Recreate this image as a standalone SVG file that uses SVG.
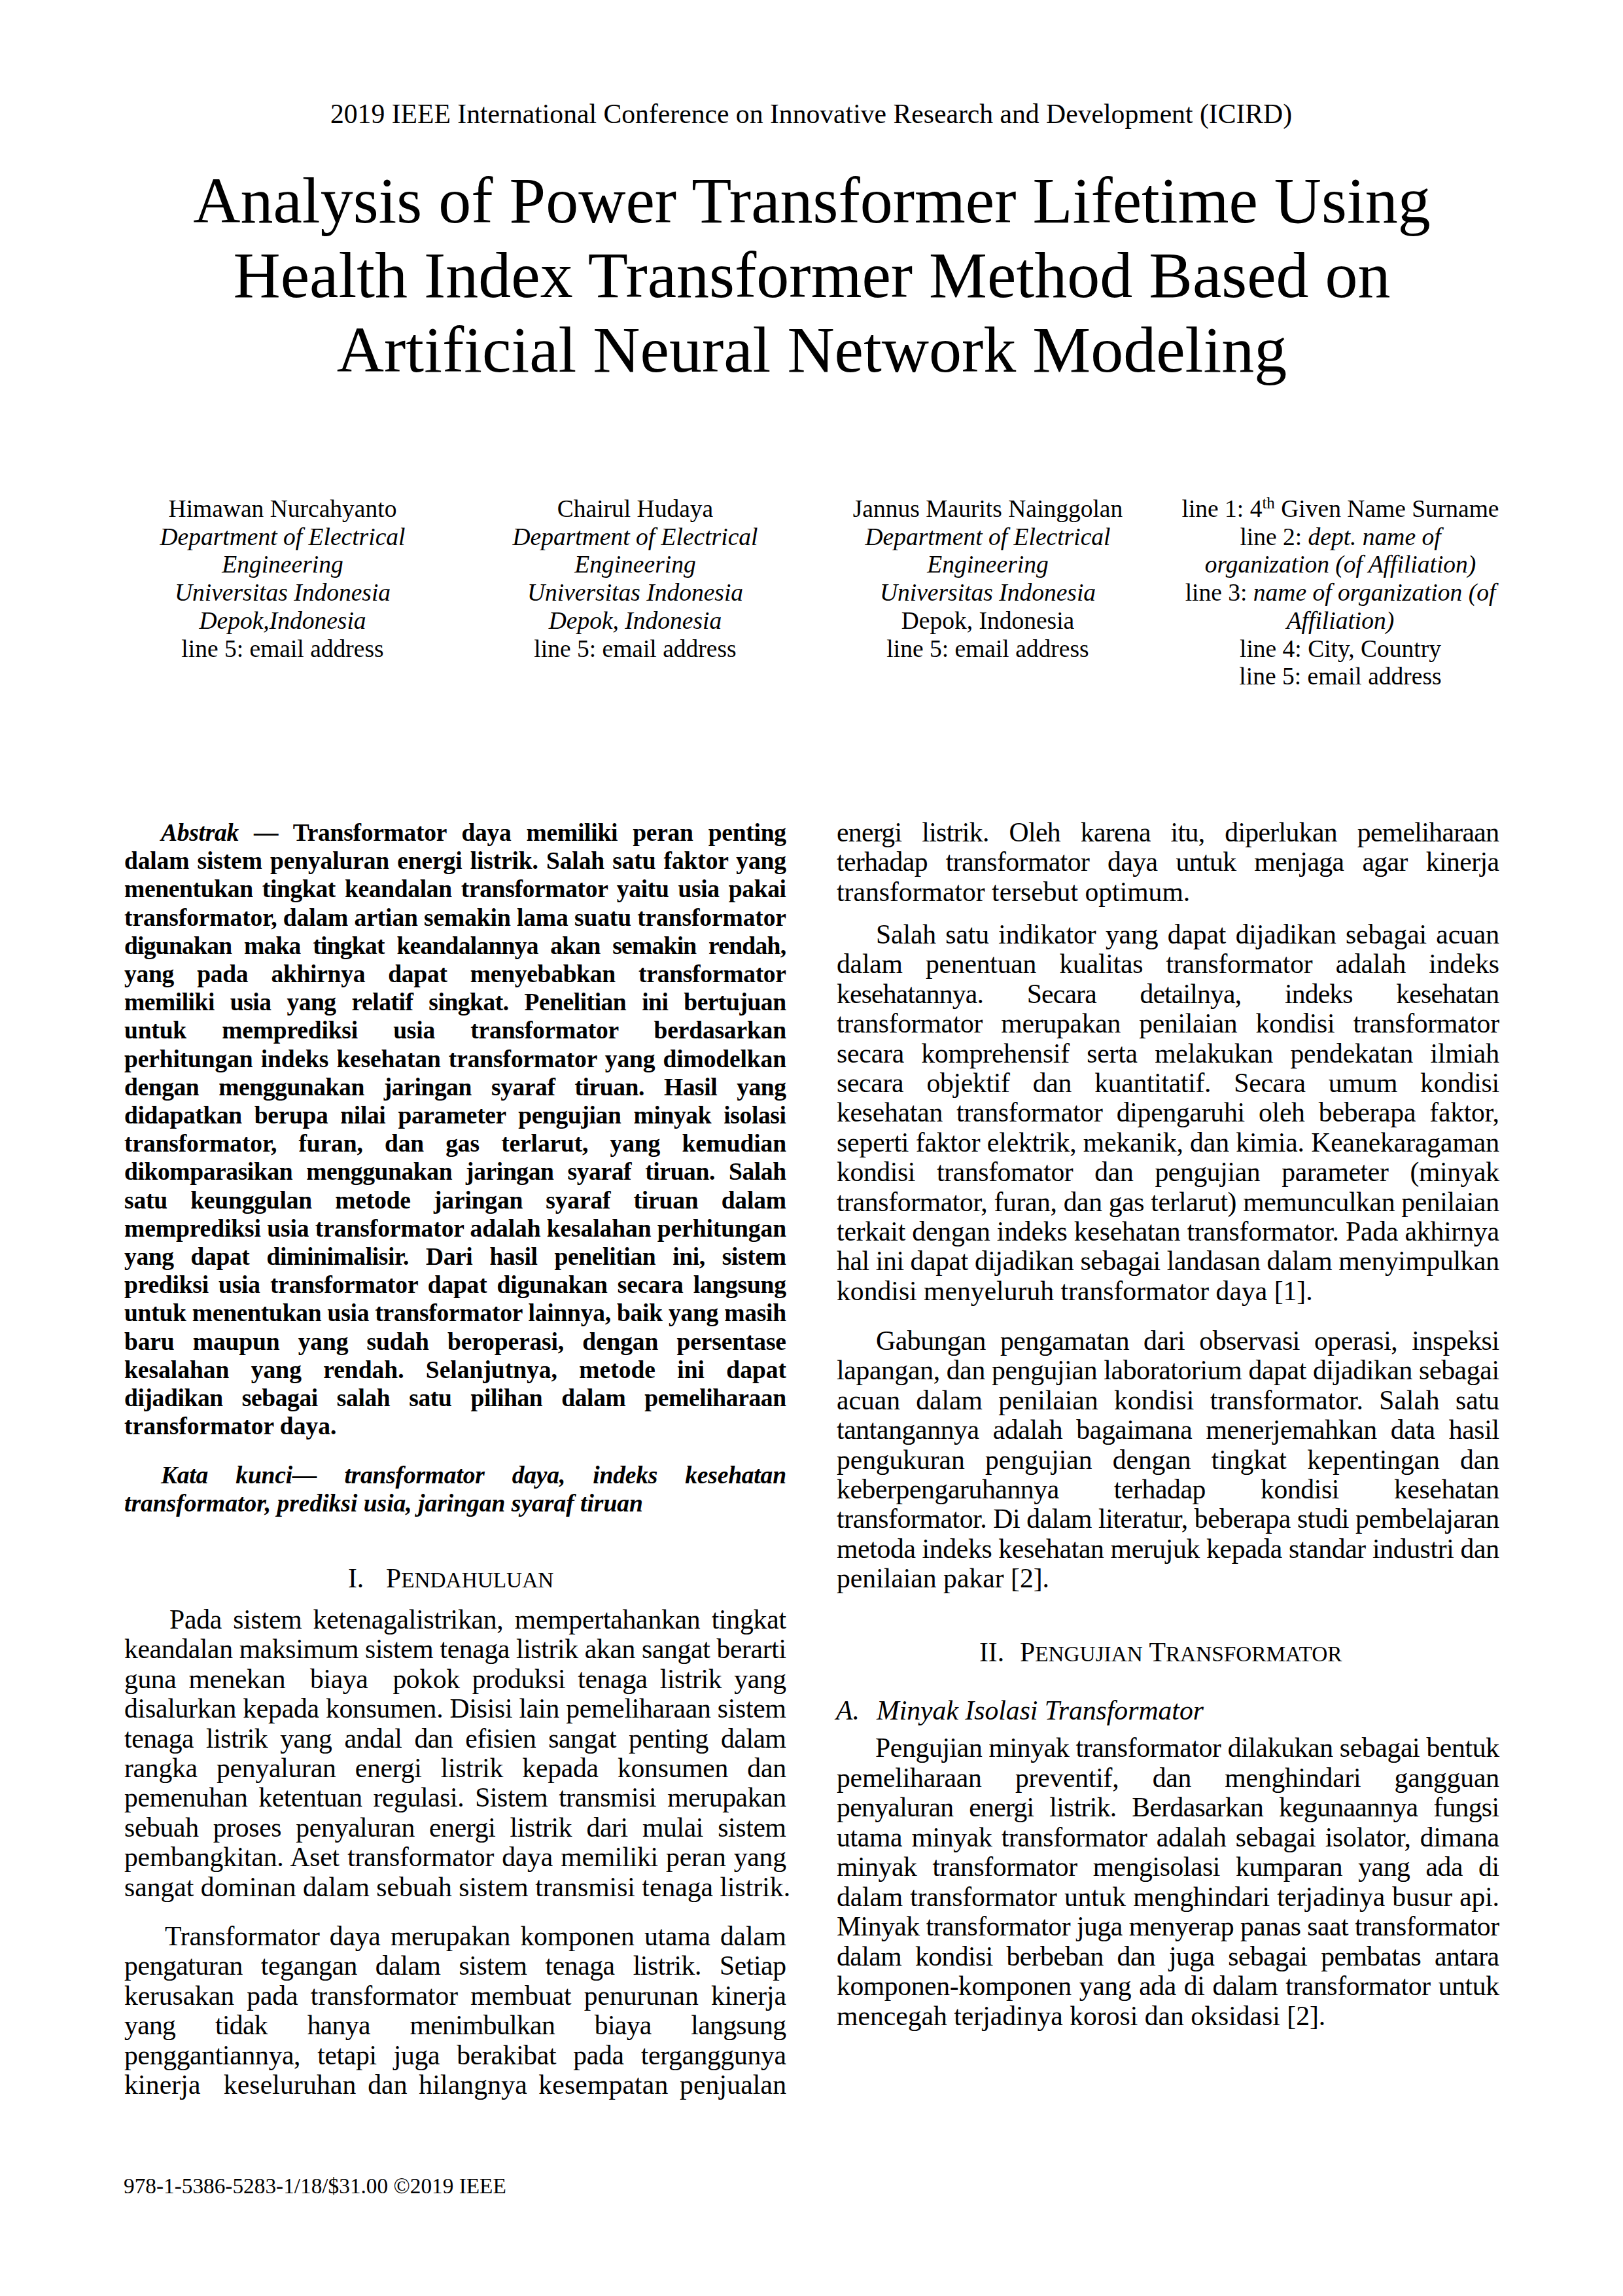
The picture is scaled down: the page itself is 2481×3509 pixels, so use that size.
<svg xmlns="http://www.w3.org/2000/svg" width="2481" height="3509" viewBox="0 0 2481 3509">
<style>
text{font-family:"Liberation Serif","Times New Roman",serif;fill:#000}
.hd{font-size:41.67px;text-anchor:middle}
.ti{font-size:100px;text-anchor:middle}
.au{font-size:37.5px;text-anchor:middle}
.ab{font-size:37.5px;font-weight:bold}
.b{font-size:41.67px}
.i{font-style:italic}
.sc{font-size:33.3px}
.ft{font-size:33.3px}
</style>
<rect x="0" y="0" width="2481" height="3509" fill="#fff"/>
<g id="header">
<text class="hd" x="1240" y="188">2019 IEEE International Conference on Innovative Research and Development (ICIRD)</text>
</g>
<g id="title">
<text class="ti" x="1241" y="340">Analysis of Power Transformer Lifetime Using</text>
<text class="ti" x="1241" y="454">Health Index Transformer Method Based on</text>
<text class="ti" x="1241" y="568">Artificial Neural Network Modeling</text>
</g>
<g id="author1">
<text class="au" x="432" y="790">Himawan Nurcahyanto</text>
<text class="au i" x="432" y="832.7">Department of Electrical</text>
<text class="au i" x="432" y="875.4">Engineering</text>
<text class="au i" x="432" y="918.1">Universitas Indonesia</text>
<text class="au i" x="432" y="960.8">Depok,Indonesia</text>
<text class="au" x="432" y="1003.5">line 5: email address</text>
</g>
<g id="author2">
<text class="au" x="971" y="790">Chairul Hudaya</text>
<text class="au i" x="971" y="832.7">Department of Electrical</text>
<text class="au i" x="971" y="875.4">Engineering</text>
<text class="au i" x="971" y="918.1">Universitas Indonesia</text>
<text class="au i" x="971" y="960.8">Depok, Indonesia</text>
<text class="au" x="971" y="1003.5">line 5: email address</text>
</g>
<g id="author3">
<text class="au" x="1510" y="790">Jannus Maurits Nainggolan</text>
<text class="au i" x="1510" y="832.7">Department of Electrical</text>
<text class="au i" x="1510" y="875.4">Engineering</text>
<text class="au i" x="1510" y="918.1">Universitas Indonesia</text>
<text class="au" x="1510" y="960.8">Depok, Indonesia</text>
<text class="au" x="1510" y="1003.5">line 5: email address</text>
</g>
<g id="author4">
<text class="au" x="2049" y="790">line 1: 4<tspan font-size="25" dy="-13">th</tspan><tspan dy="13"> Given Name Surname</tspan></text>
<text class="au" x="2049" y="832.7">line 2: <tspan class="i">dept. name of</tspan></text>
<text class="au i" x="2049" y="875.4">organization (of Affiliation)</text>
<text class="au" x="2049" y="918.1">line 3: <tspan class="i">name of organization (of</tspan></text>
<text class="au i" x="2049" y="960.8">Affiliation)</text>
<text class="au" x="2049" y="1003.5">line 4: City, Country</text>
<text class="au" x="2049" y="1046.2">line 5: email address</text>
</g>
<g id="abstract">
<text class="ab" x="246" y="1285" textLength="956" style="word-spacing:14px"><tspan class="i">Abstrak</tspan> — Transformator daya memiliki peran penting</text>
<text class="ab" x="190" y="1328.2" textLength="1012" style="word-spacing:3px">dalam sistem penyaluran energi listrik. Salah satu faktor yang</text>
<text class="ab" x="190" y="1371.4" textLength="1012" style="word-spacing:5px">menentukan tingkat keandalan transformator yaitu usia pakai</text>
<text class="ab" x="190" y="1414.6" textLength="1012" style="word-spacing:0px">transformator, dalam artian semakin lama suatu transformator</text>
<text class="ab" x="190" y="1457.8" textLength="1012" style="word-spacing:10px">digunakan maka tingkat keandalannya akan semakin rendah,</text>
<text class="ab" x="190" y="1501" textLength="1012" style="word-spacing:26px">yang pada akhirnya dapat menyebabkan transformator</text>
<text class="ab" x="190" y="1544.2" textLength="1012" style="word-spacing:15px">memiliki usia yang relatif singkat. Penelitian ini bertujuan</text>
<text class="ab" x="190" y="1587.4" textLength="1012" style="word-spacing:45px">untuk memprediksi usia transformator berdasarkan</text>
<text class="ab" x="190" y="1630.6" textLength="1012" style="word-spacing:3px">perhitungan indeks kesehatan transformator yang dimodelkan</text>
<text class="ab" x="190" y="1673.8" textLength="1012" style="word-spacing:21px">dengan menggunakan jaringan syaraf tiruan. Hasil yang</text>
<text class="ab" x="190" y="1717" textLength="1012" style="word-spacing:10px">didapatkan berupa nilai parameter pengujian minyak isolasi</text>
<text class="ab" x="190" y="1760.2" textLength="1012" style="word-spacing:24px">transformator, furan, dan gas terlarut, yang kemudian</text>
<text class="ab" x="190" y="1803.4" textLength="1012" style="word-spacing:12px">dikomparasikan menggunakan jaringan syaraf tiruan. Salah</text>
<text class="ab" x="190" y="1846.6" textLength="1012" style="word-spacing:26px">satu keunggulan metode jaringan syaraf tiruan dalam</text>
<text class="ab" x="190" y="1889.8" textLength="1012" style="word-spacing:0px">memprediksi usia transformator adalah kesalahan perhitungan</text>
<text class="ab" x="190" y="1933" textLength="1012" style="word-spacing:17px">yang dapat diminimalisir. Dari hasil penelitian ini, sistem</text>
<text class="ab" x="190" y="1976.2" textLength="1012" style="word-spacing:6px">prediksi usia transformator dapat digunakan secara langsung</text>
<text class="ab" x="190" y="2019.4" textLength="1012" style="word-spacing:0px">untuk menentukan usia transformator lainnya, baik yang masih</text>
<text class="ab" x="190" y="2062.6" textLength="1012" style="word-spacing:19px">baru maupun yang sudah beroperasi, dengan persentase</text>
<text class="ab" x="190" y="2105.8" textLength="1012" style="word-spacing:24px">kesalahan yang rendah. Selanjutnya, metode ini dapat</text>
<text class="ab" x="190" y="2149" textLength="1012" style="word-spacing:20px">dijadikan sebagai salah satu pilihan dalam pemeliharaan</text>
<text class="ab" x="190" y="2192.2">transformator daya.</text>
</g>
<g id="keywords">
<text class="ab i" x="246" y="2267" textLength="956" style="word-spacing:33px">Kata kunci— transformator daya, indeks kesehatan</text>
<text class="ab i" x="190" y="2310">transformator, prediksi usia, jaringan syaraf tiruan</text>
</g>
<g id="section1">
<text class="b" x="532" y="2426">I.</text>
<text class="b" x="590" y="2426">P<tspan class="sc">ENDAHULUAN</tspan></text>
<text class="b" x="259" y="2489" textLength="943" style="word-spacing:7px">Pada sistem ketenagalistrikan, mempertahankan tingkat</text>
<text class="b" x="190" y="2534.4" textLength="1012" style="word-spacing:0px">keandalan maksimum sistem tenaga listrik akan sangat berarti</text>
<text class="b" x="190" y="2579.8" textLength="1012" style="word-spacing:9px" xml:space="preserve">guna menekan  biaya  pokok produksi tenaga listrik yang</text>
<text class="b" x="190" y="2625.2" textLength="1012" style="word-spacing:0px">disalurkan kepada konsumen. Disisi lain pemeliharaan sistem</text>
<text class="b" x="190" y="2670.6" textLength="1012" style="word-spacing:9px">tenaga listrik yang andal dan efisien sangat penting dalam</text>
<text class="b" x="190" y="2716" textLength="1012" style="word-spacing:19px">rangka penyaluran energi listrik kepada konsumen dan</text>
<text class="b" x="190" y="2761.4" textLength="1012" style="word-spacing:7px">pemenuhan ketentuan regulasi. Sistem transmisi merupakan</text>
<text class="b" x="190" y="2806.8" textLength="1012" style="word-spacing:12px">sebuah proses penyaluran energi listrik dari mulai sistem</text>
<text class="b" x="190" y="2852.2" textLength="1012" style="word-spacing:2px">pembangkitan. Aset transformator daya memiliki peran yang</text>
<text class="b" x="190" y="2897.6">sangat dominan dalam sebuah sistem transmisi tenaga listrik.</text>
<text class="b" x="252" y="2973" textLength="950" style="word-spacing:5px">Transformator daya merupakan komponen utama dalam</text>
<text class="b" x="190" y="3018.4" textLength="1012" style="word-spacing:18px">pengaturan tegangan dalam sistem tenaga listrik. Setiap</text>
<text class="b" x="190" y="3063.8" textLength="1012" style="word-spacing:9px">kerusakan pada transformator membuat penurunan kinerja</text>
<text class="b" x="190" y="3109.2" textLength="1012" style="word-spacing:51px">yang tidak hanya menimbulkan biaya langsung</text>
<text class="b" x="190" y="3154.6" textLength="1012" style="word-spacing:16px">penggantiannya, tetapi juga berakibat pada terganggunya</text>
<text class="b" x="190" y="3200" textLength="1012" style="word-spacing:7px" xml:space="preserve">kinerja  keseluruhan dan hilangnya kesempatan penjualan</text>
</g>
<g id="right-intro">
<text class="b" x="1279" y="1286" textLength="1013" style="word-spacing:21px">energi listrik. Oleh karena itu, diperlukan pemeliharaan</text>
<text class="b" x="1279" y="1331.4" textLength="1013" style="word-spacing:18px">terhadap transformator daya untuk menjaga agar kinerja</text>
<text class="b" x="1279" y="1376.8">transformator tersebut optimum.</text>
<text class="b" x="1339" y="1442" textLength="953" style="word-spacing:4px">Salah satu indikator yang dapat dijadikan sebagai acuan</text>
<text class="b" x="1279" y="1487.4" textLength="1013" style="word-spacing:25px">dalam penentuan kualitas transformator adalah indeks</text>
<text class="b" x="1279" y="1532.8" textLength="1013" style="word-spacing:57px">kesehatannya. Secara detailnya, indeks kesehatan</text>
<text class="b" x="1279" y="1578.2" textLength="1013" style="word-spacing:18px">transformator merupakan penilaian kondisi transformator</text>
<text class="b" x="1279" y="1623.6" textLength="1013" style="word-spacing:16px">secara komprehensif serta melakukan pendekatan ilmiah</text>
<text class="b" x="1279" y="1669" textLength="1013" style="word-spacing:25px">secara objektif dan kuantitatif. Secara umum kondisi</text>
<text class="b" x="1279" y="1714.4" textLength="1013" style="word-spacing:11px">kesehatan transformator dipengaruhi oleh beberapa faktor,</text>
<text class="b" x="1279" y="1759.8" textLength="1013" style="word-spacing:0px">seperti faktor elektrik, mekanik, dan kimia. Keanekaragaman</text>
<text class="b" x="1279" y="1805.2" textLength="1013" style="word-spacing:23px">kondisi transfomator dan pengujian parameter (minyak</text>
<text class="b" x="1279" y="1850.6" textLength="1013" style="word-spacing:0px">transformator, furan, dan gas terlarut) memunculkan penilaian</text>
<text class="b" x="1279" y="1896" textLength="1013" style="word-spacing:0px">terkait dengan indeks kesehatan transformator. Pada akhirnya</text>
<text class="b" x="1279" y="1941.4" textLength="1013" style="word-spacing:0px">hal ini dapat dijadikan sebagai landasan dalam menyimpulkan</text>
<text class="b" x="1279" y="1986.8">kondisi menyeluruh transformator daya [1].</text>
<text class="b" x="1339" y="2063" textLength="953" style="word-spacing:12px">Gabungan pengamatan dari observasi operasi, inspeksi</text>
<text class="b" x="1279" y="2108.4" textLength="1013" style="word-spacing:0px">lapangan, dan pengujian laboratorium dapat dijadikan sebagai</text>
<text class="b" x="1279" y="2153.8" textLength="1013" style="word-spacing:14px">acuan dalam penilaian kondisi transformator. Salah satu</text>
<text class="b" x="1279" y="2199.2" textLength="1013" style="word-spacing:11px">tantangannya adalah bagaimana menerjemahkan data hasil</text>
<text class="b" x="1279" y="2244.6" textLength="1013" style="word-spacing:21px">pengukuran pengujian dengan tingkat kepentingan dan</text>
<text class="b" x="1279" y="2290" textLength="1013" style="word-spacing:74px">keberpengaruhannya terhadap kondisi kesehatan</text>
<text class="b" x="1279" y="2335.4" textLength="1013" style="word-spacing:0px">transformator. Di dalam literatur, beberapa studi pembelajaran</text>
<text class="b" x="1279" y="2380.8" textLength="1013" style="word-spacing:0px">metoda indeks kesehatan merujuk kepada standar industri dan</text>
<text class="b" x="1279" y="2426.2">penilaian pakar [2].</text>
</g>
<g id="section2">
<text class="b" x="1497" y="2539">II.</text>
<text class="b" x="1559" y="2539">P<tspan class="sc">ENGUJIAN</tspan> T<tspan class="sc">RANSFORMATOR</tspan></text>
<text class="b i" x="1278" y="2628">A.</text>
<text class="b i" x="1340" y="2628">Minyak Isolasi Transformator</text>
<text class="b" x="1338" y="2685" textLength="954" style="word-spacing:0px">Pengujian minyak transformator dilakukan sebagai bentuk</text>
<text class="b" x="1279" y="2730.5" textLength="1013" style="word-spacing:41px">pemeliharaan preventif, dan menghindari gangguan</text>
<text class="b" x="1279" y="2776" textLength="1013" style="word-spacing:14px">penyaluran energi listrik. Berdasarkan kegunaannya fungsi</text>
<text class="b" x="1279" y="2821.5" textLength="1013" style="word-spacing:4px">utama minyak transformator adalah sebagai isolator, dimana</text>
<text class="b" x="1279" y="2867" textLength="1013" style="word-spacing:14px">minyak transformator mengisolasi kumparan yang ada di</text>
<text class="b" x="1279" y="2912.5" textLength="1013" style="word-spacing:1px">dalam transformator untuk menghindari terjadinya busur api.</text>
<text class="b" x="1279" y="2958" textLength="1013" style="word-spacing:0px">Minyak transformator juga menyerap panas saat transformator</text>
<text class="b" x="1279" y="3003.5" textLength="1013" style="word-spacing:11px">dalam kondisi berbeban dan juga sebagai pembatas antara</text>
<text class="b" x="1279" y="3049" textLength="1013" style="word-spacing:2px">komponen-komponen yang ada di dalam transformator untuk</text>
<text class="b" x="1279" y="3094.5">mencegah terjadinya korosi dan oksidasi [2].</text>
</g>
<g id="footer">
<text class="ft" x="189" y="3352">978-1-5386-5283-1/18/$31.00 ©2019 IEEE</text>
</g>
</svg>
